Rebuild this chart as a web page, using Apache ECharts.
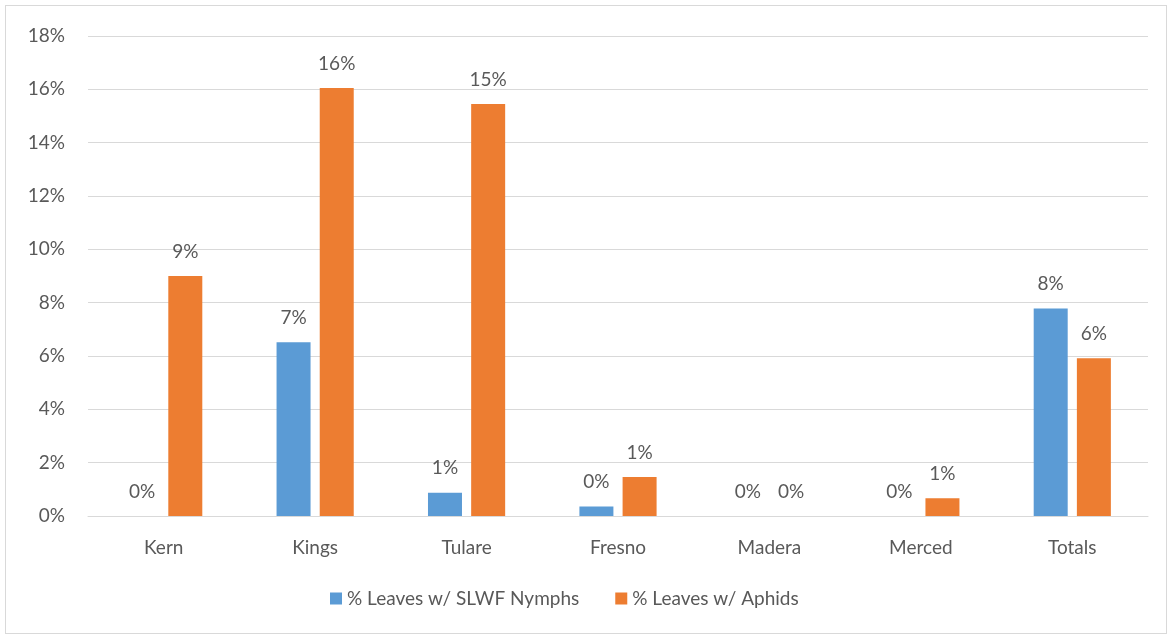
<!DOCTYPE html>
<html><head><meta charset="utf-8">
<script src="https://cdn.jsdelivr.net/npm/echarts@6/dist/echarts.min.js"></script>
<style>
html,body{margin:0;padding:0;background:#fff;}
#frame{position:absolute;left:5px;top:5px;width:1162px;height:629px;border:1px solid #d9d9d9;box-sizing:border-box;}
#chart{position:absolute;left:0;top:0;width:1169px;height:636px;}
</style></head>
<body>
<div id="frame"></div>
<div id="chart"></div>
<script>
const categories = ['Kern','Kings','Tulare','Fresno','Madera','Merced','Totals'];
const slwfNymphs = [0, 6.52, 0.87, 0.36, 0, 0, 7.78];
const aphids = [9.0, 16.05, 15.45, 1.46, 0, 0.67, 5.92];
const seriesNames = ['% Leaves w/ SLWF Nymphs', '% Leaves w/ Aphids'];
const yTicks = {min:0, max:18, interval:2};

const FONT = 'Lato';
const FS = 19;
const TXT = '#595959';
const chart = echarts.init(document.getElementById('chart'), null, {renderer:'canvas'});
const lbl = {show:true, position:'top', distance:15, color:TXT, fontFamily:FONT, fontSize:FS,
  formatter: p => Math.round(p.value) + '%'};
chart.setOption({
  animation:false,
  textStyle:{fontFamily:FONT},
  grid:{left:88, right:21, top:36, bottom:120, containLabel:false},
  legend:{bottom:23, left:325, itemWidth:12, itemHeight:12, itemGap:36,
    icon:'rect', textStyle:{color:TXT, fontFamily:FONT, fontSize:FS}, data:seriesNames},
  xAxis:{type:'category', data:categories,
    axisLine:{lineStyle:{color:'#d9d9d9', width:1}}, axisTick:{show:false},
    axisLabel:{color:TXT, fontFamily:FONT, fontSize:FS, margin:22}},
  yAxis:{type:'value', min:yTicks.min, max:yTicks.max, interval:yTicks.interval,
    axisLine:{show:false}, axisTick:{show:false},
    splitLine:{lineStyle:{color:'#d9d9d9', width:1}},
    axisLabel:{color:TXT, fontFamily:FONT, fontSize:FS, margin:23, formatter: v => v + '%'}},
  series:[
    {name:seriesNames[0], type:'bar', data:slwfNymphs, barWidth:34, barGap:'27%',
     itemStyle:{color:'#5b9bd5'}, label:lbl},
    {name:seriesNames[1], type:'bar', data:aphids, barWidth:34,
     itemStyle:{color:'#ed7d31'}, label:lbl}
  ]
});
</script>
</body></html>
